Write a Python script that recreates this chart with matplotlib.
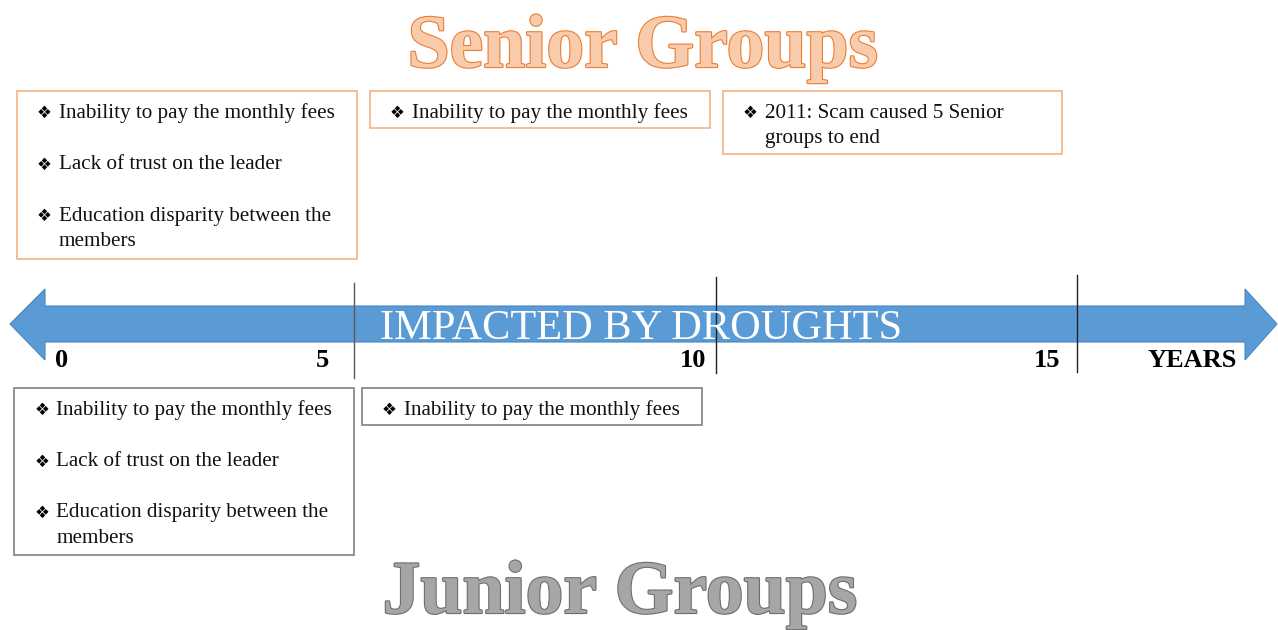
import matplotlib
matplotlib.use("Agg")
import matplotlib.pyplot as plt
from matplotlib.patches import Rectangle, Polygon
import matplotlib.patheffects as pe

# ---------------- data ----------------
tick_years = [5, 10, 15]
tick_labels = ["0", "5", "10", "15", "YEARS"]
tick_label_x = [0.96, 4.56, 9.69, 14.58, 16.59]

senior_title = "Senior Groups"
junior_title = "Junior Groups"
arrow_text = "IMPACTED BY DROUGHTS"

senior_spans = [(0.34, 5.04), (5.22, 9.92), (10.10, 14.79)]
senior_items = [
    [["Inability to pay the monthly fees"], ["Lack of trust on the leader"],
     ["Education disparity between the", "members"]],
    [["Inability to pay the monthly fees"]],
    [["2011: Scam caused 5 Senior", "groups to end"]],
]
junior_spans = [(0.30, 5.00), (5.11, 9.81)]
junior_items = [
    [["Inability to pay the monthly fees"], ["Lack of trust on the leader"],
     ["Education disparity between the", "members"]],
    [["Inability to pay the monthly fees"]],
]

# ---------------- layout ----------------
W, H = 1278, 630
px_per_year = 72.3
x0_px = -7.5
def yr(px):
    return (px - x0_px) / px_per_year

fig = plt.figure(figsize=(W / 100, H / 100), dpi=100)
ax = fig.add_axes([0, 0, 1, 1])
ax.set_xlim(yr(0), yr(W))
ax.set_ylim(H, 0)
ax.axis("off")

serif = ["Liberation Serif", "DejaVu Serif"]
bullet_font = ["DejaVu Sans"]

ORANGE_EDGE = "#F4B183"
GRAY_EDGE = "#808080"
BLUE = "#5B9BD5"

# arrow
body_top, body_bot = 306, 342
head_top, head_bot = 289, 360
mid = (body_top + body_bot) / 2
lt, lb = yr(10), yr(45)
rb, rt = yr(1245), yr(1277)
arrow = Polygon([(lt, mid), (lb, head_top), (lb, body_top), (rb, body_top),
                 (rb, head_top), (rt, mid), (rb, head_bot), (rb, body_bot),
                 (lb, body_bot), (lb, head_bot)],
                closed=True, facecolor=BLUE, edgecolor="#4A86C0", lw=0.8, zorder=2)
ax.add_patch(arrow)
ax.text(yr(641), 329, arrow_text, color="white", fontsize=30.5, family=serif,
        ha="center", va="center", zorder=4)

# tick lines
tick_tops = [283, 277, 275]
tick_bots = [378, 373, 372]
tick_cols = ["#595959", "#222222", "#222222"]
for t, a, b, c in zip(tick_years, tick_tops, tick_bots, tick_cols):
    ax.plot([t, t], [a, b], color=c, lw=1.0, zorder=3)

for lab, x in zip(tick_labels, tick_label_x):
    ax.text(x, 367, lab, fontsize=19, fontweight="bold", family=serif,
            ha="center", va="baseline", color="black", zorder=4)

# boxes
def draw_box(span, top, bottom, items, edge, first_y, line_gap, item_gap):
    x_left, x_right = span
    ax.add_patch(Rectangle((x_left, top), x_right - x_left, bottom - top,
                           facecolor="white", edgecolor=edge, lw=1.2, zorder=2))
    y = first_y
    for item in items:
        ax.text(x_left + 20 / px_per_year, y, "\u2756", fontsize=12,
                family=bullet_font, ha="left", va="center", color="black", zorder=4)
        for j, line in enumerate(item):
            ax.text(x_left + 42 / px_per_year, y + j * line_gap, line, fontsize=15.2,
                    family=serif, ha="left", va="center", color="#111111", zorder=4)
        y += item_gap + (len(item) - 1) * line_gap

senior_tops = [91, 91, 91]
senior_bots = [259, 128, 154]
for span, t, b, items in zip(senior_spans, senior_tops, senior_bots, senior_items):
    draw_box(span, t, b, items, ORANGE_EDGE, 113, 26, 51.5)

junior_tops = [388, 388]
junior_bots = [555, 425]
for span, t, b, items in zip(junior_spans, junior_tops, junior_bots, junior_items):
    draw_box(span, t, b, items, GRAY_EDGE, 410, 25.5, 51.5)

# titles
ax.text(yr(643), 67, senior_title, fontsize=54.5, fontweight="bold", family=serif,
        ha="center", va="baseline", color="#F8CBAD", zorder=4,
        path_effects=[pe.withStroke(linewidth=1.6, foreground="#ED7D31")])
ax.text(yr(620), 613, junior_title, fontsize=54.5, fontweight="bold", family=serif,
        ha="center", va="baseline", color="#A6A6A6", zorder=4,
        path_effects=[pe.withStroke(linewidth=1.6, foreground="#6E6E6E")])

fig.savefig("out.png", dpi=100, facecolor="white")
